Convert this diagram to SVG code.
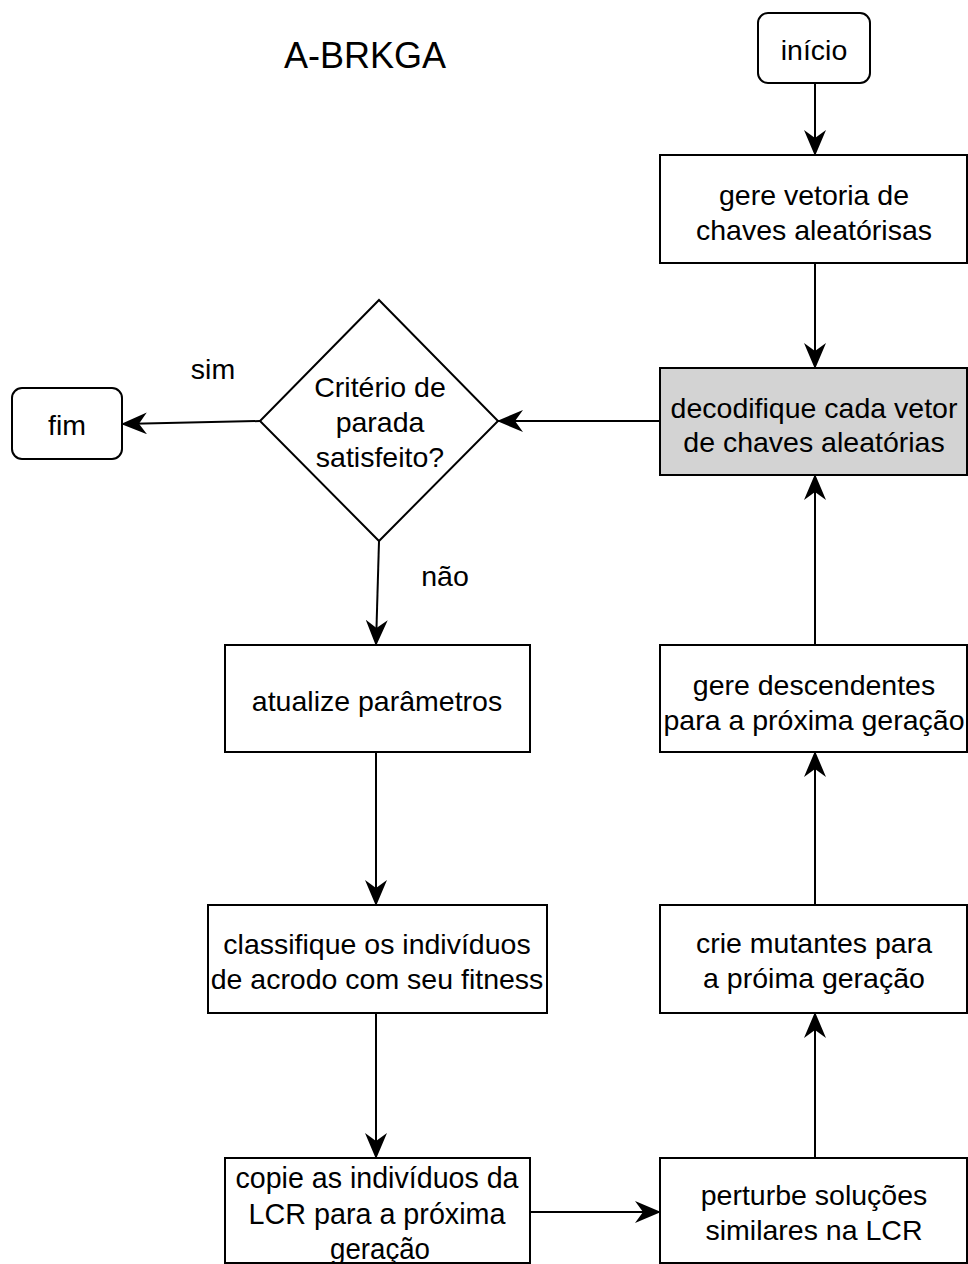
<svg xmlns="http://www.w3.org/2000/svg" width="968" height="1264" viewBox="0 0 968 1264">
  <style>
    .box { fill: #ffffff; stroke: #000000; stroke-width: 2; }
    .shade { fill: #d3d3d3; }
    .lbl { font-family: "Liberation Sans", Arial, sans-serif; font-size: 28.5px; fill: #000000; text-anchor: middle; }
    .edge { fill: none; stroke: #000000; stroke-width: 2; marker-end: url(#arrow); }
  </style>
  <defs>
    <!-- notched filled arrowhead -->
    <marker id="arrow" viewBox="0 0 26 22" refX="25" refY="11" markerWidth="26" markerHeight="22" markerUnits="userSpaceOnUse" orient="auto">
      <path d="M0,0 L26,11 L0,22 L8,11 Z" fill="#000000"/>
    </marker>
  </defs>

  <rect width="968" height="1264" fill="#ffffff"/>

  <text x="365" y="68" class="lbl" style="font-size:36px">A-BRKGA</text>

  <g id="connectors">
    <path class="edge" d="M815,84 L815,155"/>
    <path class="edge" d="M815,264 L815,368"/>
    <path class="edge" d="M659,421 L498,421"/>
    <path class="edge" d="M260,421 L122,424"/>
    <path class="edge" d="M379,541 L376,645"/>
    <path class="edge" d="M376,753 L376,905"/>
    <path class="edge" d="M376,1014 L376,1158"/>
    <path class="edge" d="M531,1212 L660,1212"/>
    <path class="edge" d="M815,1157 L815,1013"/>
    <path class="edge" d="M815,904 L815,752"/>
    <path class="edge" d="M815,644 L815,475"/>
    <text x="213" y="379" class="lbl">sim</text>
    <text x="445" y="586" class="lbl">não</text>
  </g>

  <g id="inicio">
    <rect class="box" x="758" y="13" width="112" height="70" rx="10"/>
    <text x="814" y="60" class="lbl">início</text>
  </g>

  <g id="gere-vetoria">
    <rect class="box" x="660" y="155" width="307" height="108"/>
    <text x="814" y="205" class="lbl">gere vetoria de</text>
    <text x="814" y="240" class="lbl">chaves aleatórisas</text>
  </g>

  <g id="decodifique">
    <rect class="box shade" x="660" y="368" width="307" height="107"/>
    <text x="814" y="418" class="lbl">decodifique cada vetor</text>
    <text x="814" y="452" class="lbl">de chaves aleatórias</text>
  </g>

  <g id="criterio">
    <path class="box" d="M379,300 L498,421 L379,541 L260,421 Z"/>
    <text x="380" y="397" class="lbl">Critério de</text>
    <text x="380" y="432" class="lbl">parada</text>
    <text x="380" y="467" class="lbl">satisfeito?</text>
  </g>

  <g id="fim">
    <rect class="box" x="12" y="388" width="110" height="71" rx="10"/>
    <text x="67" y="435" class="lbl">fim</text>
  </g>

  <g id="atualize">
    <rect class="box" x="225" y="645" width="305" height="107"/>
    <text x="377" y="711" class="lbl">atualize parâmetros</text>
  </g>

  <g id="classifique">
    <rect class="box" x="208" y="905" width="339" height="108"/>
    <text x="377" y="954" class="lbl">classifique os indivíduos</text>
    <text x="377" y="989" class="lbl">de acrodo com seu fitness</text>
  </g>

  <g id="copie">
    <rect class="box" x="225" y="1158" width="305" height="105"/>
    <text x="377" y="1188" class="lbl" style="font-size:30px" textLength="283" lengthAdjust="spacingAndGlyphs">copie as indivíduos da</text>
    <text x="377" y="1224" class="lbl" style="font-size:30px" textLength="257" lengthAdjust="spacingAndGlyphs">LCR para a próxima</text>
    <text x="380" y="1259" class="lbl" style="font-size:30px" textLength="100" lengthAdjust="spacingAndGlyphs">geração</text>
  </g>

  <g id="perturbe">
    <rect class="box" x="660" y="1158" width="307" height="105"/>
    <text x="814" y="1205" class="lbl">perturbe soluções</text>
    <text x="814" y="1240" class="lbl">similares na LCR</text>
  </g>

  <g id="crie">
    <rect class="box" x="660" y="905" width="307" height="108"/>
    <text x="814" y="953" class="lbl">crie mutantes para</text>
    <text x="814" y="988" class="lbl">a próima geração</text>
  </g>

  <g id="gere-descendentes">
    <rect class="box" x="660" y="645" width="307" height="107"/>
    <text x="814" y="695" class="lbl">gere descendentes</text>
    <text x="814" y="730" class="lbl">para a próxima geração</text>
  </g>
</svg>
